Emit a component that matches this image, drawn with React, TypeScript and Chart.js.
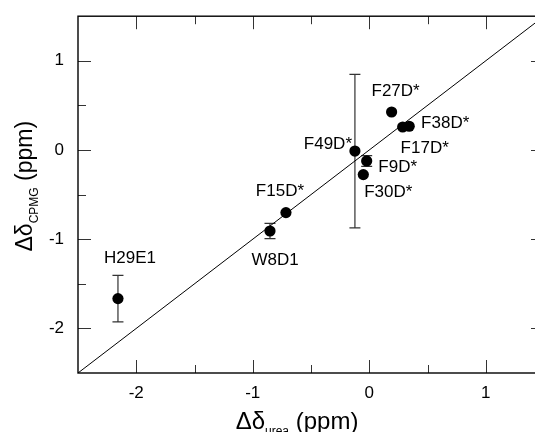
import React, { useEffect, useRef } from "react";
import { Chart, registerables } from "chart.js";
Chart.register(...registerables);

// ---- data ----
const mutants = ["H29E1", "W8D1", "F15D*", "F49D*", "F9D*", "F30D*", "F27D*", "F17D*", "F38D*"];
const deltaUrea = [-2.157, -0.852, -0.715, -0.123, -0.022, -0.051, 0.192, 0.287, 0.343];
const deltaCPMG = [-1.666, -0.908, -0.702, -0.012, -0.123, -0.276, 0.426, 0.258, 0.266];
const cpmgError = [0.26, 0.085, 0, 0.86, 0.06, 0, 0, 0, 0];
// label offsets from each point, in pixels
const labelDx = [12, 5, -6, -27, 31, 25, 4, 22, 36];
const labelDy = [-40, 29, -21, -7, 6, 18, -21, 21, -3];
const diagonal = [-2.5, 1.5];
const xTickValues = [-2, -1, 0, 1];
const yTickValues = [-2, -1, 0, 1];
const xMinorValues = [-1.5, -0.5, 0.5];
const yMinorValues = [-1.5, -0.5, 0.5];
const xRange = [-2.5, 1.5];
const yRange = [-2.5, 1.5];

const FONT = "'Liberation Sans', Arial, sans-serif";

type Part = { t: string; sub?: boolean };
const xTitle: Part[] = [{ t: "Δδ" }, { t: "urea", sub: true }, { t: " (ppm)" }];
const yTitle: Part[] = [{ t: "Δδ" }, { t: "CPMG", sub: true }, { t: " (ppm)" }];

function richWidth(ctx: CanvasRenderingContext2D, parts: Part[], main: number, sub: number) {
  let w = 0;
  for (const p of parts) {
    ctx.font = `${p.sub ? sub : main}px ${FONT}`;
    w += ctx.measureText(p.t).width;
  }
  return w;
}

function drawRich(ctx: CanvasRenderingContext2D, parts: Part[], main: number, sub: number, drop: number) {
  const w = richWidth(ctx, parts, main, sub);
  let x = -w / 2;
  ctx.textAlign = "left";
  ctx.textBaseline = "alphabetic";
  ctx.fillStyle = "#000";
  for (const p of parts) {
    ctx.font = `${p.sub ? sub : main}px ${FONT}`;
    ctx.fillText(p.t, x, p.sub ? drop : 0);
    x += ctx.measureText(p.t).width;
  }
}

const decorPlugin = {
  id: "decor",
  beforeDatasetsDraw(chart: any) {
    const { ctx, scales } = chart;
    const xs = scales.x;
    const ys = scales.y;
    ctx.save();
    ctx.strokeStyle = "#333";
    ctx.lineWidth = 1.2;
    for (let i = 0; i < mutants.length; i++) {
      const e = cpmgError[i];
      if (!e) continue;
      const px = xs.getPixelForValue(deltaUrea[i]);
      const top = ys.getPixelForValue(deltaCPMG[i] + e);
      const bot = ys.getPixelForValue(deltaCPMG[i] - e);
      ctx.beginPath();
      ctx.moveTo(px, top);
      ctx.lineTo(px, bot);
      ctx.moveTo(px - 5.5, top);
      ctx.lineTo(px + 5.5, top);
      ctx.moveTo(px - 5.5, bot);
      ctx.lineTo(px + 5.5, bot);
      ctx.stroke();
    }
    ctx.restore();
  },
  afterDraw(chart: any) {
    const ctx: CanvasRenderingContext2D = chart.ctx;
    const xs = chart.scales.x;
    const ys = chart.scales.y;
    const area = chart.chartArea;
    const L = area.left;
    const R = area.right;
    const T = area.top;
    const B = area.bottom;
    ctx.save();
    ctx.fillStyle = "#333";
    const majorLen = 13;
    const minorLen = 8;
    const xTick = (v: number, len: number) => {
      const p = Math.round(xs.getPixelForValue(v));
      ctx.fillRect(p, B - len, 1, len);
      ctx.fillRect(p, T, 1, len);
    };
    const yTick = (v: number, len: number) => {
      const p = Math.round(ys.getPixelForValue(v));
      ctx.fillRect(L, p, len, 1);
      ctx.fillRect(R - len, p, len, 1);
    };
    for (const v of xTickValues) xTick(v, majorLen);
    for (const v of xMinorValues) xTick(v, minorLen);
    for (const v of yTickValues) yTick(v, majorLen);
    for (const v of yMinorValues) yTick(v, minorLen);
    // frame
    ctx.strokeStyle = "#000";
    ctx.lineWidth = 1.4;
    ctx.strokeRect(L, T, R - L, B - T);
    // point labels
    ctx.fillStyle = "#000";
    ctx.font = `17px ${FONT}`;
    ctx.textAlign = "center";
    ctx.textBaseline = "middle";
    for (let i = 0; i < mutants.length; i++) {
      const px = xs.getPixelForValue(deltaUrea[i]) + labelDx[i];
      const py = ys.getPixelForValue(deltaCPMG[i]) + labelDy[i];
      ctx.fillText(mutants[i], px, py);
    }
    // axis titles
    ctx.save();
    ctx.translate(L + 219, B + 56);
    drawRich(ctx, xTitle, 24, 12, 6);
    ctx.restore();
    ctx.save();
    ctx.translate(32, T + 170);
    ctx.rotate(-Math.PI / 2);
    drawRich(ctx, yTitle, 23, 12, 6);
    ctx.restore();
    ctx.restore();
  },
};

export default function App() {
  const ref = useRef<HTMLCanvasElement | null>(null);
  useEffect(() => {
    if (!ref.current) return;
    const chart = new Chart(ref.current, {
      type: "scatter",
      data: {
        datasets: [
          {
            data: diagonal.map((v) => ({ x: v, y: v })),
            showLine: true,
            borderColor: "#000",
            borderWidth: 1,
            pointRadius: 0,
            order: 2,
          } as any,
          {
            data: mutants.map((_, i) => ({ x: deltaUrea[i], y: deltaCPMG[i] })),
            backgroundColor: "#000",
            borderColor: "#000",
            borderWidth: 0,
            pointRadius: 5.6,
            showLine: false,
            order: 1,
          } as any,
        ],
      },
      options: {
        animation: false,
        responsive: false,
        devicePixelRatio: 1,
        layout: { padding: { top: 16, right: 16, left: 0, bottom: 0 } },
        plugins: { legend: { display: false }, tooltip: { enabled: false } },
        scales: {
          x: {
            type: "linear",
            min: xRange[0],
            max: xRange[1],
            grid: { display: false },
            border: { display: false },
            afterBuildTicks: (s: any) => {
              s.ticks = xTickValues.map((v) => ({ value: v }));
            },
            afterFit: (s: any) => {
              s.height = 59;
            },
            ticks: {
              color: "#000",
              font: { family: FONT, size: 17 },
              padding: 2,
              maxRotation: 0,
            },
          },
          y: {
            type: "linear",
            min: yRange[0],
            max: yRange[1],
            grid: { display: false },
            border: { display: false },
            afterBuildTicks: (s: any) => {
              s.ticks = yTickValues.map((v) => ({ value: v }));
            },
            afterFit: (s: any) => {
              s.width = 78;
            },
            ticks: {
              color: "#000",
              font: { family: FONT, size: 17 },
              padding: 6,
            },
          },
        },
      },
      plugins: [decorPlugin],
    } as any);
    return () => chart.destroy();
  }, []);
  return (
    <div
      style={{
        position: "fixed",
        left: 0,
        top: 0,
        width: 535,
        height: 432,
        overflow: "hidden",
        background: "#fff",
      }}
    >
      <canvas ref={ref} width={560} height={432} style={{ display: "block" }} />
    </div>
  );
}
